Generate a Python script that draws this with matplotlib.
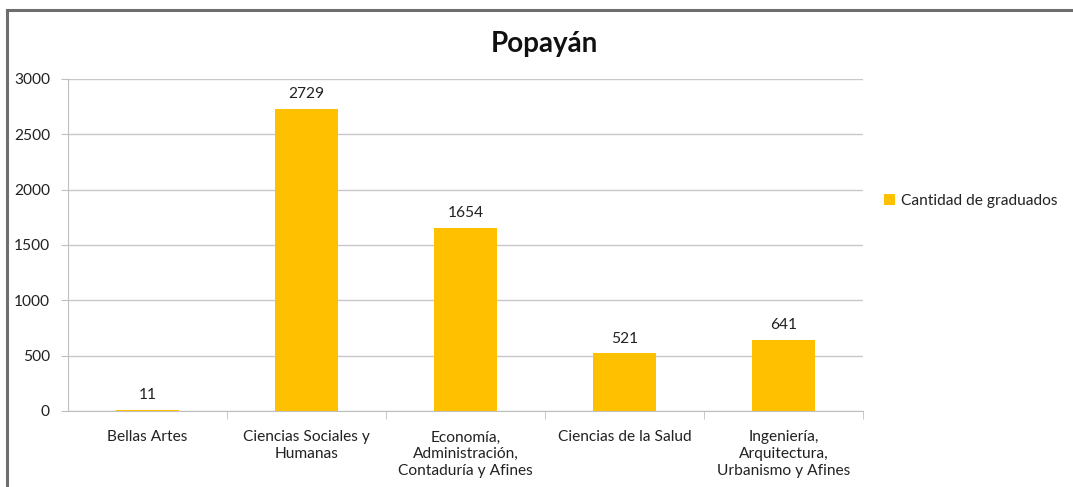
import matplotlib.pyplot as plt
from matplotlib.lines import Line2D
import numpy as np

categories = ["Bellas Artes", "Ciencias Sociales y\nHumanas",
              "Economía,\nAdministración,\nContaduría y Afines",
              "Ciencias de la Salud",
              "Ingeniería,\nArquitectura,\nUrbanismo y Afines"]
graduados = [11, 2729, 1654, 521, 641]
yticks = [0, 500, 1000, 1500, 2000, 2500, 3000]

plt.rcParams['font.family'] = ['Lato', 'DejaVu Sans']
fs = 11.2

fig = plt.figure(figsize=(10.73, 4.87), dpi=100)
ax = fig.add_axes([68/1073, 76/487, (863-68)/1073, (411-79)/487])

x = np.arange(len(categories))
bars = ax.bar(x, graduados, width=0.4, color='#FFC000', label='Cantidad de graduados', zorder=3)
for xi, v in zip(x, graduados):
    ax.text(xi, v + 70, str(v), ha='center', va='bottom', fontsize=fs, color='#222222')

ax.set_xlim(-0.5, len(categories) - 0.5)
ax.set_ylim(0, 3000)
ax.set_yticks(yticks)
ax.tick_params(axis='y', labelsize=fs, length=5, color='#BFBFBF', labelcolor='#222222', pad=8)
ax.yaxis.grid(True, color='#C8C8C8', linewidth=1, zorder=0)

ax.set_xticks(x)
ax.set_xticklabels(categories, fontsize=fs, color='#222222', linespacing=1.25, va='top')
ax.tick_params(axis='x', which='major', length=0, pad=14)
ax.set_xticks(np.arange(len(categories)) + 0.5, minor=True)
ax.tick_params(axis='x', which='minor', length=6, color='#BFBFBF')

for s in ['top', 'right']:
    ax.spines[s].set_visible(False)
ax.spines['left'].set_color('#BFBFBF')
ax.spines['bottom'].set_color('#BFBFBF')

fig.text(544/1073, 1 - 44/487, 'Popayán', ha='center', va='center', fontsize=20, fontweight='bold', color='#111111')

ax.legend(loc='center left', bbox_to_anchor=(870/1073, 1 - 201/487), bbox_transform=fig.transFigure,
          frameon=False, fontsize=fs, handlelength=0.7, handleheight=0.7, handletextpad=0.4,
          labelcolor='#222222')

# frame lines
fig.add_artist(Line2D([7/1073, 7/1073], [0, 1 - 10/487], transform=fig.transFigure, color='#6E6E6E', linewidth=2.2))
fig.add_artist(Line2D([7/1073, 1], [1 - 10/487, 1 - 10/487], transform=fig.transFigure, color='#6E6E6E', linewidth=2.2))

fig.savefig('out.png', dpi=100)
